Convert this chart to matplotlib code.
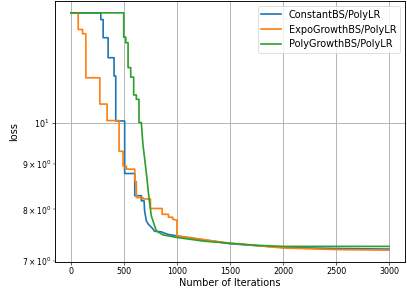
import matplotlib
matplotlib.use("Agg")
import matplotlib.pyplot as plt

# iterations / loss (step corners listed explicitly)
const_iter = [0, 282, 282, 304, 304, 351, 351, 407, 407, 423, 423, 507, 507, 602, 602,
              664, 664, 690, 695, 711, 730, 768, 789, 850, 914, 1000, 1500, 2000, 2500, 3000]
const_loss = [13.31, 13.31, 13.08, 13.08, 12.48, 12.48, 11.85, 11.85, 11.30, 11.30, 10.06, 10.06,
              8.78, 8.78, 8.29, 8.29, 8.18, 8.18, 7.97, 7.77, 7.70, 7.62, 7.56, 7.55, 7.50, 7.47,
              7.32, 7.25, 7.23, 7.22]

expo_iter = [0, 69, 69, 110, 110, 141, 141, 273, 273, 341, 341, 454, 454, 492, 492, 523, 523,
             602, 602, 617, 617, 679, 679, 750, 750, 860, 860, 920, 920, 960, 960, 1000, 1000,
             1500, 2000, 2500, 3000]
expo_loss = [13.31, 13.31, 12.75, 12.75, 12.61, 12.61, 11.25, 11.25, 10.51, 10.51, 10.07, 10.07,
             9.30, 9.30, 8.95, 8.95, 8.88, 8.88, 8.60, 8.60, 8.25, 8.25, 8.22, 8.22, 8.02, 8.02,
             7.90, 7.90, 7.84, 7.84, 7.80, 7.78, 7.47, 7.33, 7.24, 7.21, 7.20]

poly_iter = [0, 498, 498, 517, 517, 539, 539, 564, 564, 592, 592, 617, 617, 642, 642, 664,
             679, 711, 736, 758, 805, 867, 1000, 1250, 1500, 1750, 2000, 2500, 3000]
poly_loss = [13.31, 13.31, 12.50, 12.50, 12.32, 12.32, 11.55, 11.55, 11.27, 11.27, 10.76, 10.76,
             10.64, 10.64, 10.02, 10.02, 9.47, 8.80, 8.25, 7.87, 7.57, 7.49, 7.44, 7.37, 7.33,
             7.29, 7.27, 7.27, 7.27]

labels = ["ConstantBS/PolyLR", "ExpoGrowthBS/PolyLR", "PolyGrowthBS/PolyLR"]

dpi = 55
fig = plt.figure(figsize=(407 / dpi, 291 / dpi), dpi=dpi)
ax = fig.add_subplot(111)
fig.subplots_adjust(left=0.1351, right=0.9951, bottom=0.0997, top=0.9966)

ax.plot(const_iter, const_loss, label=labels[0], linewidth=2.2)
ax.plot(expo_iter, expo_loss, label=labels[1], linewidth=2.2)
ax.plot(poly_iter, poly_loss, label=labels[2], linewidth=2.2)

ax.set_yscale("log")
ax.grid(True, linewidth=1.2)
ax.set_xlabel("Number of Iterations", fontsize=12.7, labelpad=2)
ax.set_ylabel("loss", fontsize=12.7)
ax.tick_params(labelsize=10.5)
ax.legend(loc="upper right", fontsize=12.7)
for s in ax.spines.values():
    s.set_linewidth(1.2)

fig.savefig("out.png", dpi=dpi)
